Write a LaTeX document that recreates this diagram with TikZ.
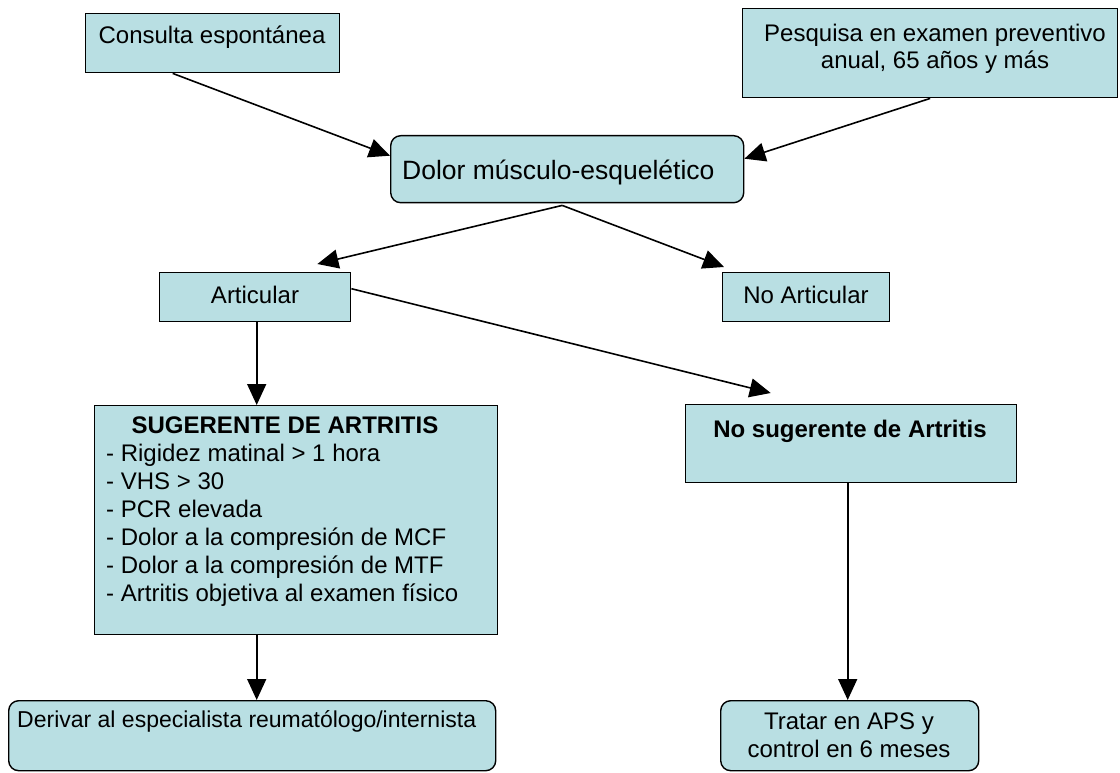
\documentclass[tikz,border=0pt]{standalone}
\usepackage{fontspec}
\setmainfont{Liberation Sans}
\usetikzlibrary{arrows.meta}
\definecolor{boxfill}{RGB}{185,223,227}
\tikzset{
  box/.style={draw=black, fill=boxfill, line width=1.4pt, inner sep=0pt, anchor=north west},
  rbox/.style={box, rounded corners=10pt},
  txt/.style={inner sep=0pt, anchor=base, font=\fontsize{24}{28}\selectfont},
  ltxt/.style={txt, anchor=base west},
  btxt/.style={txt, font=\fontsize{24}{28}\selectfont\bfseries},
  conn/.style={line width=1.6pt, -{Triangle[length=21pt,width=19pt]}},
}
\begin{document}
\begin{tikzpicture}[x=1pt,y=-1pt]
\useasboundingbox (0,0) rectangle (1120,773);
% boxes
\node[box, minimum width=254pt, minimum height=59pt] (cons) at (85,13) {};
\node[box, minimum width=375pt, minimum height=89pt] (pesq) at (742,8) {};
\node[rbox, minimum width=353pt, minimum height=67pt] (dolor) at (390,135) {};
\node[box, minimum width=191pt, minimum height=49pt] (artic) at (159,272) {};
\node[box, minimum width=167pt, minimum height=49pt] (noart) at (722,272) {};
\node[box, minimum width=403pt, minimum height=229pt] (sug) at (94,405) {};
\node[box, minimum width=331pt, minimum height=78pt] (nosug) at (685,404) {};
\node[rbox, minimum width=487pt, minimum height=70pt] (deriv) at (8,700) {};
\node[rbox, minimum width=258pt, minimum height=70pt] (tratar) at (720,700) {};
% texts
\node[txt] (t1) at (212,44) {Consulta espontánea};
\node[txt] (t2a) at (935,42) {Pesquisa en examen preventivo};
\node[txt] (t2b) at (935,69) {anual, 65 años y más};
\node[ltxt, font=\fontsize{26.5}{30}\selectfont] (t3) at (402,179) {Dolor músculo-esquelético};
\node[txt] (t4) at (255,303) {Articular};
\node[txt] (t5) at (806,303) {No Articular};
\node[btxt] (t6) at (285,433) {SUGERENTE DE ARTRITIS};
\node[ltxt] (l1) at (106,461) {- Rigidez matinal > 1 hora};
\node[ltxt] (l2) at (106,489) {- VHS > 30};
\node[ltxt] (l3) at (106,517) {- PCR elevada};
\node[ltxt] (l4) at (106,545) {- Dolor a la compresión de MCF};
\node[ltxt] (l5) at (106,573) {- Dolor a la compresión de MTF};
\node[ltxt] (l6) at (106,601) {- Artritis objetiva al examen físico};
\node[btxt] (t7) at (850,437) {No sugerente de Artritis};
\node[ltxt, font=\fontsize{23}{28}\selectfont] (t8) at (17,727) {Derivar al especialista reumatólogo/internista};
\node[txt] (t9a) at (849,729) {Tratar en APS y};
\node[txt] (t9b) at (849,757) {control en 6 meses};
% connectors
\coordinate (sp) at ([xshift=-5pt,yshift=-2pt]dolor.south);
\draw[conn] ([xshift=-40pt]cons.south) -- ([yshift=13.5pt]dolor.west);
\draw[conn] (pesq.south) -- ([yshift=10.5pt]dolor.east);
\draw[conn] (sp) -- ([xshift=-34pt,yshift=8pt]artic.north east);
\draw[conn] (sp) -- ([xshift=2pt,yshift=5pt]noart.north west);
\draw[conn] ([xshift=1.5pt]artic.south) -- ([xshift=-39.5pt]sug.north);
\draw[conn] ([yshift=8.5pt]artic.east) -- ([xshift=-80.5pt,yshift=11pt]nosug.north);
\draw[conn] ([xshift=-39.5pt]sug.south) -- ([xshift=4.5pt]deriv.north);
\draw[conn] ([xshift=-3.5pt]nosug.south) -- ([xshift=-2pt]tratar.north);
\end{tikzpicture}
\end{document}
